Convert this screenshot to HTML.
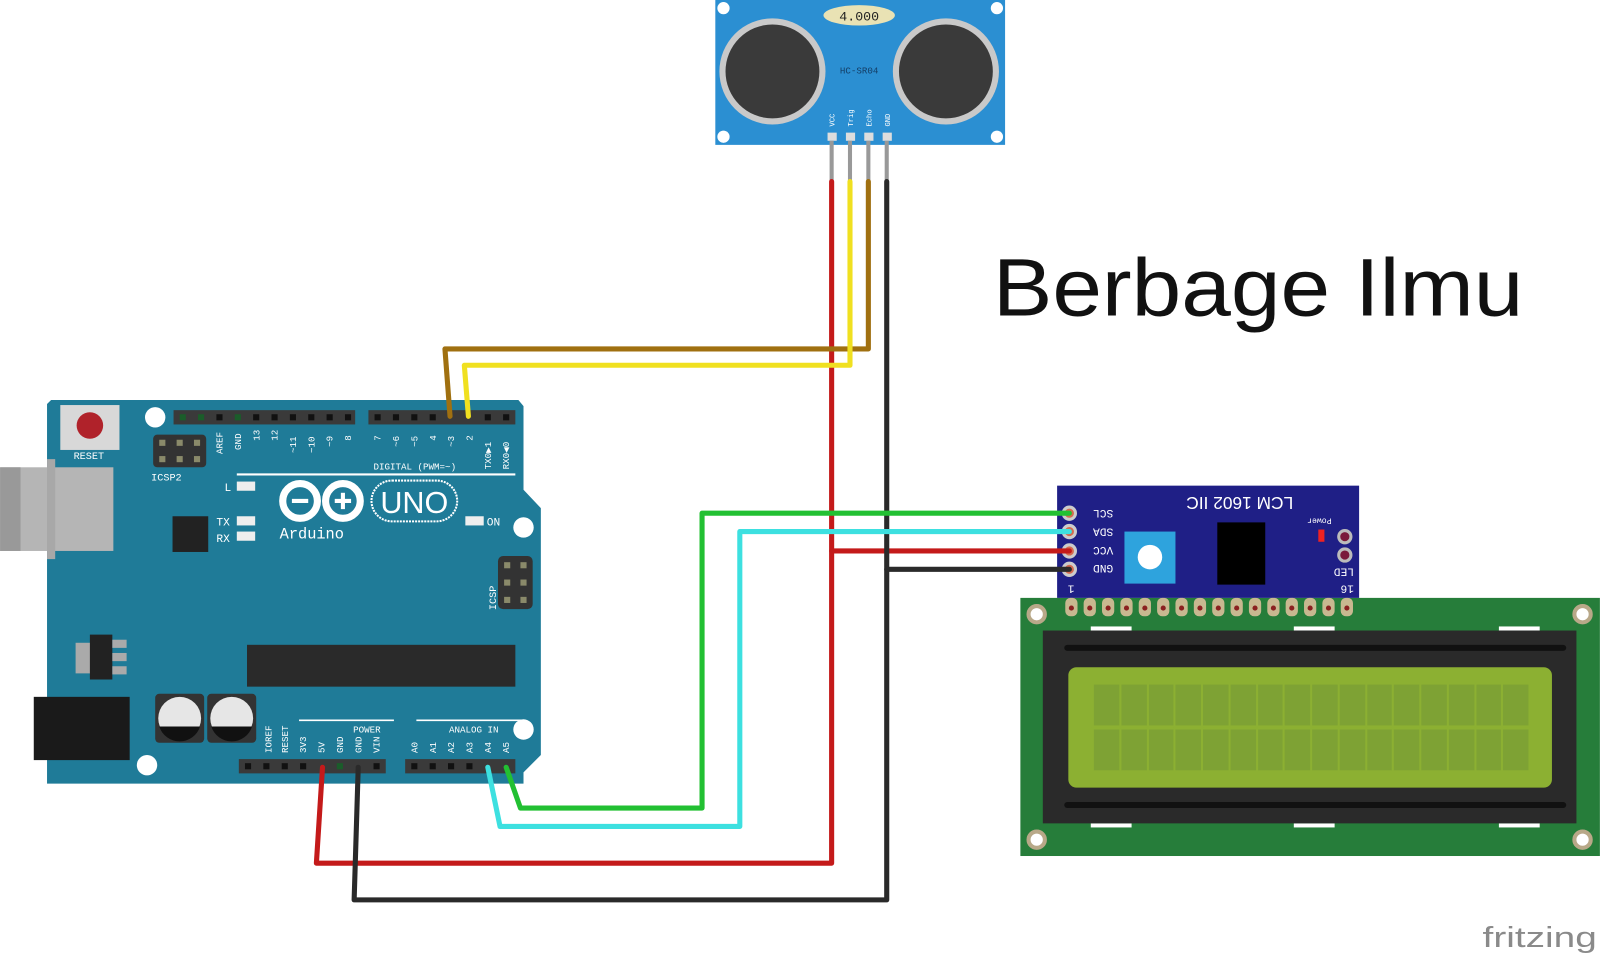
<!DOCTYPE html>
<html><head><meta charset="utf-8"><style>
html,body{margin:0;padding:0;background:#fff;width:1600px;height:956px;overflow:hidden}
svg{display:block}
text{font-family:"Liberation Mono",monospace}
</style></head><body>
<svg width="1600" height="956" viewBox="0 0 1568 937" xmlns="http://www.w3.org/2000/svg">
<rect width="1568" height="937" fill="#fff"/>

<text x="973" y="309" font-size="80" fill="#111" textLength="520" lengthAdjust="spacingAndGlyphs" style="font-family:'Liberation Sans',sans-serif">Berbage Ilmu</text>
<text x="1453" y="928" font-size="28" fill="#8a8a8a" style="font-family:'Liberation Sans',sans-serif" textLength="112" lengthAdjust="spacingAndGlyphs">fritzing</text>

<!-- HC-SR04 -->
<rect x="701" y="0" width="284" height="142" fill="#2b8fd2"/>
<circle cx="709" cy="8" r="6" fill="#fff"/><circle cx="977" cy="8" r="6" fill="#fff"/>
<circle cx="709" cy="134" r="6" fill="#fff"/><circle cx="977" cy="134" r="6" fill="#fff"/>
<circle cx="757" cy="70" r="52" fill="#c9c9c9"/><circle cx="757" cy="70" r="46" fill="#3a3a3a"/>
<circle cx="927" cy="70" r="52" fill="#c9c9c9"/><circle cx="927" cy="70" r="46" fill="#3a3a3a"/>
<ellipse cx="842" cy="15" rx="35" ry="10" fill="#e9e2b4"/>
<text x="842" y="20" font-size="13" text-anchor="middle" fill="#222">4.000</text>
<text x="842" y="72" font-size="9" text-anchor="middle" fill="#143e66">HC-SR04</text>
<g font-size="7" fill="#fff">
<text transform="translate(818,124) rotate(-90)">VCC</text>
<text transform="translate(836,124) rotate(-90)">Trig</text>
<text transform="translate(854,124) rotate(-90)">Echo</text>
<text transform="translate(872,124) rotate(-90)">GND</text>
</g>
<g fill="#ddd"><rect x="811" y="130" width="9" height="8"/><rect x="829" y="130" width="9" height="8"/><rect x="847" y="130" width="9" height="8"/><rect x="865" y="130" width="9" height="8"/></g>
<g stroke="#999" stroke-width="4"><line x1="815" y1="138" x2="815" y2="180"/><line x1="833" y1="138" x2="833" y2="180"/><line x1="851" y1="138" x2="851" y2="180"/><line x1="869" y1="138" x2="869" y2="180"/></g>

<!-- Arduino -->
<path d="M50,392 L508,392 L513,398 L513,480 L530,498 L530,740 L513,757 L513,768 L46,768 L46,396 Z" fill="#1f7b98"/>
<rect x="0" y="458" width="111" height="82" fill="#b5b5b5"/>
<rect x="0" y="458" width="20" height="82" fill="#999"/>
<rect x="46" y="450" width="8" height="98" fill="#a8a8a8"/>
<rect x="33" y="683" width="94" height="62" fill="#1a1a1a"/>
<rect x="59" y="397" width="58" height="44" fill="#d8d8d8"/>
<circle cx="88" cy="417" r="13" fill="#b0222a"/>
<text x="87" y="450" font-size="10" fill="#fff" text-anchor="middle">RESET</text>
<circle cx="152" cy="409" r="10" fill="#fff"/><circle cx="513" cy="517" r="10" fill="#fff"/>
<circle cx="513" cy="715" r="10" fill="#fff"/><circle cx="144" cy="750" r="10" fill="#fff"/>
<rect x="150" y="426" width="52" height="32" rx="4" fill="#333"/>
<g fill="#8a8a6a"><rect x="156" y="431" width="6" height="6"/><rect x="173" y="431" width="6" height="6"/><rect x="190" y="431" width="6" height="6"/><rect x="156" y="447" width="6" height="6"/><rect x="173" y="447" width="6" height="6"/><rect x="190" y="447" width="6" height="6"/></g>
<text x="148" y="471" font-size="10" fill="#fff">ICSP2</text>
<rect x="170" y="402" width="178" height="14" fill="#3a3a3a"/>
<rect x="361" y="402" width="144" height="14" fill="#3a3a3a"/>
<rect x="234" y="744" width="144" height="14" fill="#3a3a3a"/>
<rect x="397" y="744" width="108" height="14" fill="#3a3a3a"/>
<g fill="#111">
<rect x="176" y="406" width="6" height="6" fill="#1a5d2a"/><rect x="194" y="406" width="6" height="6" fill="#1a5d2a"/><rect x="212" y="406" width="6" height="6"/><rect x="230" y="406" width="6" height="6" fill="#1a5d2a"/><rect x="248" y="406" width="6" height="6"/><rect x="266" y="406" width="6" height="6"/><rect x="284" y="406" width="6" height="6"/><rect x="302" y="406" width="6" height="6"/><rect x="320" y="406" width="6" height="6"/><rect x="338" y="406" width="6" height="6"/>
<rect x="367" y="406" width="6" height="6"/><rect x="385" y="406" width="6" height="6"/><rect x="403" y="406" width="6" height="6"/><rect x="421" y="406" width="6" height="6"/><rect x="475" y="406" width="6" height="6"/><rect x="493" y="406" width="6" height="6"/>
<rect x="240" y="748" width="6" height="6"/><rect x="258" y="748" width="6" height="6"/><rect x="276" y="748" width="6" height="6"/><rect x="294" y="748" width="6" height="6"/><rect x="330" y="748" width="6" height="6" fill="#1a5d2a"/><rect x="366" y="748" width="6" height="6"/>
<rect x="403" y="748" width="6" height="6"/><rect x="421" y="748" width="6" height="6"/><rect x="439" y="748" width="6" height="6"/><rect x="457" y="748" width="6" height="6"/>
</g>
<text x="366" y="460" font-size="9" fill="#fff">DIGITAL (PWM=~)</text>
<line x1="232" y1="465" x2="505" y2="465" stroke="#fff" stroke-width="2"/>
<g font-size="9" fill="#fff">
<text transform="translate(218,445) rotate(-90)">AREF</text><text transform="translate(236,441) rotate(-90)">GND</text>
<text transform="translate(254,432) rotate(-90)">13</text><text transform="translate(272,432) rotate(-90)">12</text>
<text transform="translate(290,444) rotate(-90)">~11</text><text transform="translate(308,444) rotate(-90)">~10</text>
<text transform="translate(326,438) rotate(-90)">~9</text><text transform="translate(344,432) rotate(-90)">8</text>
<text transform="translate(373,432) rotate(-90)">7</text><text transform="translate(391,438) rotate(-90)">~6</text>
<text transform="translate(409,438) rotate(-90)">~5</text><text transform="translate(427,432) rotate(-90)">4</text>
<text transform="translate(445,438) rotate(-90)">~3</text><text transform="translate(463,432) rotate(-90)">2</text>
<text transform="translate(481,460) rotate(-90)">TX0▶1</text><text transform="translate(499,460) rotate(-90)">RX0◀0</text>
<text transform="translate(266,738) rotate(-90)">IOREF</text><text transform="translate(282,738) rotate(-90)">RESET</text>
<text transform="translate(300,738) rotate(-90)">3V3</text><text transform="translate(318,738) rotate(-90)">5V</text>
<text transform="translate(336,738) rotate(-90)">GND</text><text transform="translate(354,738) rotate(-90)">GND</text>
<text transform="translate(372,738) rotate(-90)">VIN</text>
<text transform="translate(409,738) rotate(-90)">A0</text><text transform="translate(427,738) rotate(-90)">A1</text>
<text transform="translate(445,738) rotate(-90)">A2</text><text transform="translate(463,738) rotate(-90)">A3</text>
<text transform="translate(481,738) rotate(-90)">A4</text><text transform="translate(499,738) rotate(-90)">A5</text>
<text x="346" y="718">POWER</text><text x="440" y="718">ANALOG IN</text>
</g>
<line x1="293" y1="706" x2="386" y2="706" stroke="#fff" stroke-width="1.5"/>
<line x1="408" y1="706" x2="511" y2="706" stroke="#fff" stroke-width="1.5"/>
<text x="220" y="481" font-size="11" fill="#fff">L</text>
<text x="212" y="515" font-size="11" fill="#fff">TX</text><text x="212" y="531" font-size="11" fill="#fff">RX</text>
<rect x="232" y="472" width="18" height="9" fill="#eee"/><rect x="232" y="506" width="18" height="9" fill="#eee"/><rect x="232" y="521" width="18" height="9" fill="#eee"/>
<rect x="456" y="506" width="18" height="9" fill="#eee"/><text x="477" y="515" font-size="11" fill="#fff">ON</text>
<rect x="169" y="506" width="35" height="35" fill="#222"/>
<g fill="none" stroke="#fff" stroke-width="7"><circle cx="294" cy="491" r="17"/><circle cx="336" cy="491" r="17"/></g>
<line x1="286" y1="491" x2="302" y2="491" stroke="#fff" stroke-width="4"/>
<line x1="328" y1="491" x2="344" y2="491" stroke="#fff" stroke-width="4"/><line x1="336" y1="483" x2="336" y2="499" stroke="#fff" stroke-width="4"/>
<rect x="364" y="471" width="84" height="40" rx="20" fill="none" stroke="#fff" stroke-width="2" stroke-dasharray="2 1"/>
<text x="406" y="503" font-size="30" fill="#fff" text-anchor="middle" style="font-family:'Liberation Sans',sans-serif">UNO</text>
<text x="274" y="528" font-size="15" fill="#fff">Arduino</text>
<rect x="488" y="545" width="34" height="52" rx="5" fill="#333"/>
<g fill="#8a8a6a"><rect x="494" y="551" width="6" height="6"/><rect x="510" y="551" width="6" height="6"/><rect x="494" y="568" width="6" height="6"/><rect x="510" y="568" width="6" height="6"/><rect x="494" y="585" width="6" height="6"/><rect x="510" y="585" width="6" height="6"/></g>
<text transform="translate(486,598) rotate(-90)" font-size="10" fill="#fff">ICSP</text>
<rect x="242" y="632" width="263" height="41" fill="#2a2a2a"/>
<rect x="74" y="630" width="16" height="30" fill="#aaa"/><rect x="88" y="622" width="22" height="44" fill="#222"/>
<rect x="110" y="627" width="14" height="8" fill="#aaa"/><rect x="110" y="640" width="14" height="8" fill="#aaa"/><rect x="110" y="653" width="14" height="8" fill="#aaa"/>
<rect x="152" y="680" width="48" height="48" rx="4" fill="#333"/><rect x="203" y="680" width="48" height="48" rx="4" fill="#333"/>
<circle cx="176" cy="704" r="21" fill="#e6e6e6"/><circle cx="227" cy="704" r="21" fill="#e6e6e6"/>
<path d="M156,712 A21,21 0 0 0 196,712 Z" fill="#111"/><path d="M207,712 A21,21 0 0 0 247,712 Z" fill="#111"/>

<!-- LCD -->
<rect x="1000" y="586" width="568" height="253" fill="#267d3a"/>
<g fill="#fff" stroke="#b8a888" stroke-width="4"><circle cx="1016" cy="602" r="8"/><circle cx="1551" cy="602" r="8"/><circle cx="1016" cy="823" r="8"/><circle cx="1551" cy="823" r="8"/></g>
<g fill="#fff"><rect x="1069" y="614" width="40" height="4"/><rect x="1268" y="614" width="40" height="4"/><rect x="1469" y="614" width="40" height="4"/><rect x="1069" y="807" width="40" height="4"/><rect x="1268" y="807" width="40" height="4"/><rect x="1469" y="807" width="40" height="4"/></g>
<rect x="1022" y="618" width="523" height="189" fill="#2a2a2a"/>
<rect x="1043" y="632" width="492" height="6" rx="3" fill="#111"/><rect x="1043" y="786" width="492" height="6" rx="3" fill="#111"/>
<rect x="1047" y="654" width="474" height="118" rx="8" fill="#8cb032"/>
<g fill="#7ea234" stroke="#8cb032" stroke-width="2">
<rect x="1071" y="670" width="428" height="42"/><rect x="1071" y="714" width="428" height="42"/>
</g>
<g stroke="#8cb032" stroke-width="2">
<line x1="1098" y1="670" x2="1098" y2="756"/><line x1="1125" y1="670" x2="1125" y2="756"/><line x1="1151" y1="670" x2="1151" y2="756"/><line x1="1178" y1="670" x2="1178" y2="756"/><line x1="1205" y1="670" x2="1205" y2="756"/><line x1="1232" y1="670" x2="1232" y2="756"/><line x1="1258" y1="670" x2="1258" y2="756"/><line x1="1285" y1="670" x2="1285" y2="756"/><line x1="1312" y1="670" x2="1312" y2="756"/><line x1="1339" y1="670" x2="1339" y2="756"/><line x1="1365" y1="670" x2="1365" y2="756"/><line x1="1392" y1="670" x2="1392" y2="756"/><line x1="1419" y1="670" x2="1419" y2="756"/><line x1="1446" y1="670" x2="1446" y2="756"/><line x1="1472" y1="670" x2="1472" y2="756"/>
</g>
<!-- I2C -->
<rect x="1036" y="476" width="296" height="110" fill="#1f1f86"/>
<text transform="translate(1215,487) rotate(180)" font-size="17" fill="#fff" text-anchor="middle" style="font-family:'Liberation Sans',sans-serif">LCM 1602 IIC</text>
<g font-size="11" fill="#fff" style="font-family:'Liberation Sans',sans-serif">
<text transform="translate(1091,500) rotate(180)">SCL</text><text transform="translate(1091,518) rotate(180)">SDA</text>
<text transform="translate(1091,536) rotate(180)">VCC</text><text transform="translate(1091,554) rotate(180)">GND</text>
<text transform="translate(1053,574) rotate(180)">1</text><text transform="translate(1327,574) rotate(180)">16</text>
<text transform="translate(1327,557) rotate(180)">LED</text>
<text transform="translate(1305,508) rotate(180)" font-size="8">Power</text>
</g>
<rect x="1102" y="521" width="50" height="51" fill="#2ea3dd"/><circle cx="1127" cy="546" r="12" fill="#fff"/>
<rect x="1193" y="512" width="47" height="61" fill="#000"/>
<rect x="1292" y="519" width="6" height="12" fill="#e22"/>
<g fill="#7a1a3a" stroke="#bbb" stroke-width="3"><circle cx="1318" cy="526" r="6"/><circle cx="1318" cy="544" r="6"/></g>
<g fill="#d46a50" stroke="#ccc" stroke-width="3"><circle cx="1048" cy="503" r="6"/><circle cx="1048" cy="521" r="6"/><circle cx="1048" cy="540" r="6"/><circle cx="1048" cy="558" r="6"/></g>
<g fill="#c8b890">
<rect x="1044" y="586" width="12" height="18" rx="5"/><rect x="1062" y="586" width="12" height="18" rx="5"/><rect x="1080" y="586" width="12" height="18" rx="5"/><rect x="1098" y="586" width="12" height="18" rx="5"/><rect x="1116" y="586" width="12" height="18" rx="5"/><rect x="1134" y="586" width="12" height="18" rx="5"/><rect x="1152" y="586" width="12" height="18" rx="5"/><rect x="1170" y="586" width="12" height="18" rx="5"/><rect x="1188" y="586" width="12" height="18" rx="5"/><rect x="1206" y="586" width="12" height="18" rx="5"/><rect x="1224" y="586" width="12" height="18" rx="5"/><rect x="1242" y="586" width="12" height="18" rx="5"/><rect x="1260" y="586" width="12" height="18" rx="5"/><rect x="1278" y="586" width="12" height="18" rx="5"/><rect x="1296" y="586" width="12" height="18" rx="5"/><rect x="1314" y="586" width="12" height="18" rx="5"/>
</g>
<g fill="#8a2020"><circle cx="1050" cy="596" r="2.5"/><circle cx="1068" cy="596" r="2.5"/><circle cx="1086" cy="596" r="2.5"/><circle cx="1104" cy="596" r="2.5"/><circle cx="1122" cy="596" r="2.5"/><circle cx="1140" cy="596" r="2.5"/><circle cx="1158" cy="596" r="2.5"/><circle cx="1176" cy="596" r="2.5"/><circle cx="1194" cy="596" r="2.5"/><circle cx="1212" cy="596" r="2.5"/><circle cx="1230" cy="596" r="2.5"/><circle cx="1248" cy="596" r="2.5"/><circle cx="1266" cy="596" r="2.5"/><circle cx="1284" cy="596" r="2.5"/><circle cx="1302" cy="596" r="2.5"/><circle cx="1320" cy="596" r="2.5"/></g>

<!-- Wires -->
<g fill="none" stroke-width="5" stroke-linejoin="round" stroke-linecap="round">
<polyline points="815,178 815,846 310,846 316,752" stroke="#c41a1a"/>
<polyline points="815,540 1048,540" stroke="#c41a1a"/>
<polyline points="869,178 869,882 347,882 351,752" stroke="#2a2a2a"/>
<polyline points="869,558 1048,558" stroke="#2a2a2a"/>
<polyline points="851,178 851,342 436,342 441,408" stroke="#a07010"/>
<polyline points="833,178 833,358 455,358 459,408" stroke="#f0e020"/>
<polyline points="496,752 510,792 688,792 688,503 1048,503" stroke="#22c032"/>
<polyline points="478,752 490,810 725,810 725,521 1048,521" stroke="#3de0e0"/>
</g>
</svg>
</body></html>
